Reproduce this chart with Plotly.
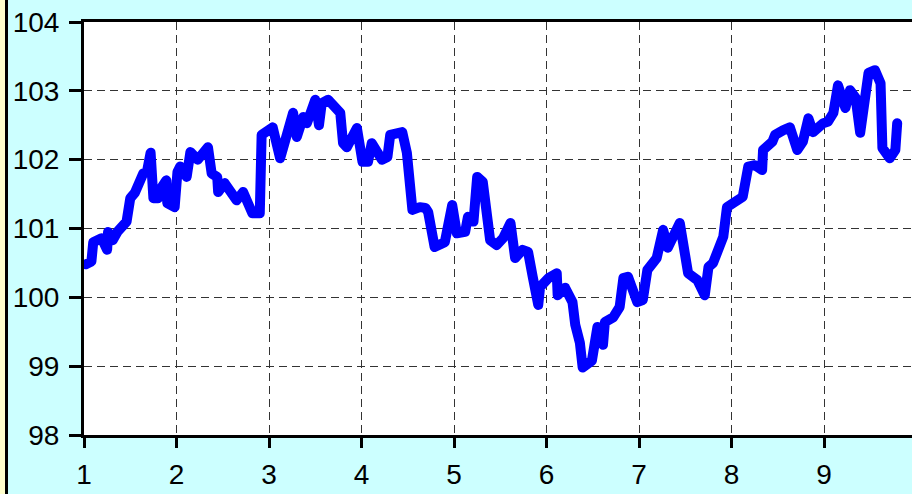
import plotly.graph_objects as go

x_vals = [1.02, 1.08, 1.10, 1.19, 1.25, 1.26, 1.31, 1.36, 1.46, 1.50, 1.55, 1.64, 1.68, 1.72, 1.75, 1.80,
          1.84, 1.89, 1.90, 1.98, 2.01, 2.04, 2.11, 2.15, 2.23, 2.34, 2.38, 2.44, 2.45, 2.50, 2.52, 2.65,
          2.72, 2.82, 2.90, 2.92, 3.04, 3.12, 3.17, 3.26, 3.30, 3.37, 3.41, 3.50, 3.54, 3.57, 3.64, 3.77,
          3.80, 3.84, 3.90, 3.95, 4.01, 4.07, 4.11, 4.22, 4.28, 4.31, 4.44, 4.49, 4.55, 4.63, 4.69, 4.72,
          4.79, 4.90, 4.98, 5.03, 5.12, 5.15, 5.21, 5.25, 5.31, 5.39, 5.46, 5.53, 5.61, 5.66, 5.74, 5.80,
          5.85, 5.91, 5.93, 6.02, 6.11, 6.12, 6.20, 6.28, 6.31, 6.36, 6.39, 6.49, 6.55, 6.61, 6.63, 6.72,
          6.79, 6.83, 6.88, 6.98, 7.04, 7.09, 7.19, 7.26, 7.31, 7.44, 7.53, 7.63, 7.71, 7.75, 7.80, 7.91,
          7.95, 8.06, 8.12, 8.18, 8.25, 8.33, 8.34, 8.44, 8.47, 8.56, 8.63, 8.71, 8.77, 8.83, 8.88, 8.99,
          9.04, 9.10, 9.15, 9.23, 9.28, 9.34, 9.39, 9.48, 9.55, 9.61, 9.63, 9.71, 9.77, 9.79]

y_vals = [100.48, 100.52, 100.80, 100.86, 100.69, 100.95, 100.83, 100.95, 101.10, 101.44, 101.52, 101.80,
          101.82, 102.10, 101.44, 101.44, 101.60, 101.70, 101.37, 101.31, 101.82, 101.90, 101.75, 102.11,
          102.00, 102.18, 101.80, 101.75, 101.53, 101.60, 101.66, 101.41, 101.53, 101.22, 101.22, 102.36,
          102.47, 102.02, 102.31, 102.68, 102.33, 102.62, 102.53, 102.87, 102.50, 102.82, 102.87, 102.68,
          102.24, 102.18, 102.33, 102.46, 101.97, 101.97, 102.24, 102.00, 102.04, 102.36, 102.40, 102.10,
          101.27, 101.31, 101.30, 101.24, 100.73, 100.80, 101.34, 100.93, 100.95, 101.17, 101.10, 101.75,
          101.68, 100.83, 100.76, 100.86, 101.08, 100.57, 100.69, 100.66, 100.30, 99.89, 100.15, 100.28,
          100.35, 100.03, 100.14, 99.93, 99.60, 99.34, 98.98, 99.08, 99.57, 99.31, 99.64, 99.71,
          99.86, 100.28, 100.30, 99.93, 99.96, 100.40, 100.57, 100.98, 100.72, 101.08, 100.35, 100.25,
          100.03, 100.44, 100.50, 100.88, 101.31, 101.41, 101.46, 101.90, 101.92, 101.85, 102.14, 102.26,
          102.36, 102.43, 102.47, 102.14, 102.26, 102.60, 102.40, 102.53, 102.55, 102.68, 103.08, 102.75,
          103.01, 102.90, 102.39, 103.26, 103.30, 103.11, 102.17, 102.02, 102.14, 102.53]

x_ticks = [1, 2, 3, 4, 5, 6, 7, 8, 9]
y_ticks = [98, 99, 100, 101, 102, 103, 104]

W, H = 912, 494
ML, MT, MB = 84, 22, 59
plot_w = W - ML
plot_h = H - MT - MB


def px_to_paper_x(px):
    return (px - ML) / plot_w


def py_to_paper_y(py):
    return (H - MB - py) / plot_h


fig = go.Figure()
fig.add_trace(go.Scatter(
    x=x_vals, y=y_vals, mode="lines",
    line=dict(color="#0000FF", width=10),
    hoverinfo="skip", showlegend=False,
))

font = dict(family="Liberation Sans, Arial, sans-serif", size=28, color="#000000")

fig.update_layout(
    width=W, height=H,
    margin=dict(l=ML, r=0, t=MT, b=MB, pad=0, autoexpand=False),
    paper_bgcolor="#CCFFFF",
    plot_bgcolor="#FFFFFF",
    font=font,
    xaxis=dict(
        range=[1, 9.95], tickvals=x_ticks, ticktext=[str(v) for v in x_ticks],
        showgrid=True, gridcolor="#333333", gridwidth=1, griddash="8px,5px",
        showline=True, linecolor="#000000", linewidth=3, mirror=True,
        ticks="outside", ticklen=10, tickwidth=3, tickcolor="#000000",
        zeroline=False, tickfont=font, ticklabelstandoff=2, automargin=False,
    ),
    yaxis=dict(
        range=[98, 104], tickvals=y_ticks, ticktext=[str(v) for v in y_ticks],
        showgrid=True, gridcolor="#333333", gridwidth=1, griddash="8px,5px",
        showline=True, linecolor="#000000", linewidth=3, mirror=False,
        ticks="outside", ticklen=12, tickwidth=3, tickcolor="#000000",
        zeroline=False, tickfont=font, ticklabelstandoff=4, automargin=False,
    ),
    shapes=[
        dict(type="rect", xref="paper", yref="paper",
             x0=px_to_paper_x(-2), x1=px_to_paper_x(5),
             y0=py_to_paper_y(H + 5), y1=py_to_paper_y(-5),
             fillcolor="#FFFFCC", line=dict(width=0), layer="above"),
        dict(type="rect", xref="paper", yref="paper",
             x0=px_to_paper_x(5), x1=px_to_paper_x(8),
             y0=py_to_paper_y(H + 5), y1=py_to_paper_y(-5),
             fillcolor="#000000", line=dict(width=0), layer="above"),
    ],
)

fig.write_html(
    "out.html",
    config={"displayModeBar": False, "staticPlot": True},
    post_script=(
        "document.body.style.margin='0';document.body.style.padding='0';"
        "document.body.style.overflow='hidden';"
        "document.querySelectorAll('.js-line').forEach(function(p){"
        "p.style.strokeLinejoin='round';p.style.strokeLinecap='round';});"
    ),
)
